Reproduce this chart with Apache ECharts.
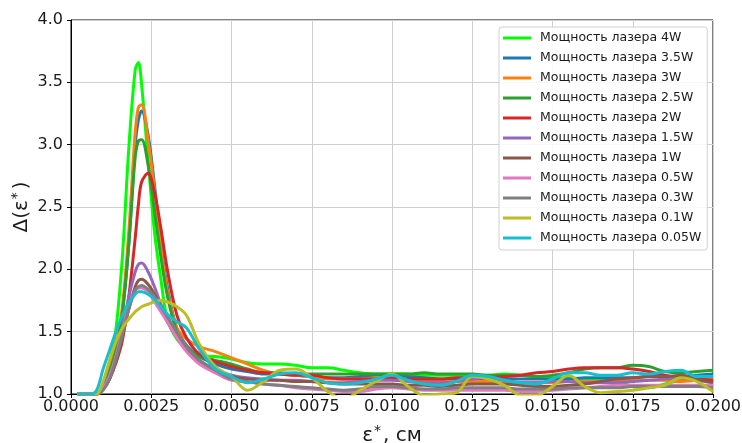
<!DOCTYPE html>
<html>
<head>
<meta charset="utf-8">
<script src="https://cdn.jsdelivr.net/npm/echarts@6/dist/echarts.min.js"></script>
<style>
  html, body { margin: 0; padding: 0; background: #fff; }
  #main { width: 742px; height: 443px; }
</style>
</head>
<body>
<div id="main"></div>
<script>
// x values (eps*, cm)
var xs = [0.0002, 0.0006, 0.0008, 0.0010, 0.0012, 0.0014, 0.0016, 0.0018, 0.0020, 0.0021,
  0.0022, 0.0024, 0.0026, 0.0028, 0.0030, 0.0033, 0.0036, 0.0040, 0.0045,
  0.0050, 0.0055, 0.0060, 0.0065, 0.0070, 0.0075, 0.0080, 0.0085, 0.0090, 0.0095,
  0.0100, 0.0105, 0.0110, 0.0115, 0.0120, 0.0125, 0.0130, 0.0135, 0.0140, 0.0145,
  0.0150, 0.0155, 0.0160, 0.0165, 0.0170, 0.0175, 0.0180, 0.0185, 0.0190, 0.0195, 0.0200];

var p4w = [1, 1, 1.0, 1.08, 1.25, 1.52, 2.1, 2.97, 3.6, 3.66, 3.48, 2.88, 2.3, 1.92, 1.6, 1.44, 1.37, 1.31, 1.3,
  1.28, 1.25, 1.24, 1.24, 1.23, 1.21, 1.21, 1.19, 1.17, 1.16, 1.16, 1.16, 1.15, 1.15, 1.15, 1.15, 1.15, 1.16, 1.15, 1.14,
  1.13, 1.13, 1.12, 1.11, 1.1, 1.06, 1.05, 1.08, 1.11, 1.12, 1.13];
var p35w = [1, 1, 1.0, 1.06, 1.18, 1.35, 1.65, 2.2, 3.0, 3.2, 3.27, 3.08, 2.68, 2.2, 1.86, 1.52, 1.39, 1.3, 1.24,
  1.2, 1.18, 1.16, 1.16, 1.15, 1.14, 1.13, 1.13, 1.14, 1.15, 1.15, 1.14, 1.13, 1.12, 1.12, 1.12, 1.12, 1.12, 1.12, 1.12,
  1.12, 1.12, 1.13, 1.13, 1.13, 1.13, 1.14, 1.14, 1.14, 1.15, 1.16];
var p3w = [1, 1, 1.0, 1.07, 1.2, 1.38, 1.7, 2.3, 3.1, 3.3, 3.32, 3.04, 2.64, 2.18, 1.83, 1.53, 1.44, 1.38, 1.34,
  1.29, 1.24, 1.19, 1.16, 1.15, 1.14, 1.12, 1.12, 1.12, 1.13, 1.12, 1.11, 1.11, 1.1, 1.1, 1.1, 1.1, 1.09, 1.09, 1.09,
  1.09, 1.1, 1.1, 1.1, 1.1, 1.11, 1.11, 1.11, 1.1, 1.11, 1.12];
var p25w = [1, 1, 1.0, 1.06, 1.18, 1.35, 1.65, 2.2, 2.9, 3.03, 3.04, 2.84, 2.47, 2.1, 1.79, 1.5, 1.38, 1.3, 1.27,
  1.24, 1.2, 1.17, 1.17, 1.16, 1.16, 1.16, 1.16, 1.16, 1.16, 1.16, 1.16, 1.17, 1.16, 1.16, 1.16, 1.15, 1.15, 1.15, 1.14,
  1.15, 1.17, 1.2, 1.21, 1.21, 1.23, 1.22, 1.18, 1.17, 1.18, 1.19];
var p2w = [1, 1, 1.0, 1.04, 1.12, 1.25, 1.43, 1.78, 2.25, 2.52, 2.7, 2.77, 2.62, 2.33, 2.0, 1.63, 1.45, 1.32, 1.26,
  1.22, 1.19, 1.17, 1.16, 1.15, 1.15, 1.13, 1.12, 1.12, 1.12, 1.13, 1.12, 1.12, 1.12, 1.13, 1.13, 1.13, 1.14, 1.15, 1.17,
  1.18, 1.2, 1.21, 1.21, 1.21, 1.2, 1.18, 1.15, 1.13, 1.12, 1.11];
var p15w = [1, 1, 1.0, 1.05, 1.15, 1.3, 1.52, 1.78, 1.98, 2.04, 2.05, 1.98, 1.86, 1.72, 1.62, 1.48, 1.38, 1.27, 1.2,
  1.15, 1.13, 1.12, 1.11, 1.11, 1.1, 1.09, 1.09, 1.1, 1.11, 1.11, 1.1, 1.09, 1.09, 1.1, 1.12, 1.13, 1.11, 1.09, 1.09,
  1.1, 1.1, 1.09, 1.09, 1.09, 1.1, 1.11, 1.12, 1.13, 1.11, 1.09];
var p1w = [1, 1, 1.0, 1.04, 1.12, 1.26, 1.46, 1.68, 1.86, 1.91, 1.92, 1.88, 1.8, 1.69, 1.58, 1.46, 1.37, 1.27, 1.19,
  1.14, 1.12, 1.11, 1.11, 1.1, 1.1, 1.09, 1.08, 1.08, 1.08, 1.08, 1.07, 1.07, 1.06, 1.07, 1.08, 1.08, 1.08, 1.07, 1.06,
  1.06, 1.07, 1.08, 1.1, 1.12, 1.13, 1.14, 1.14, 1.15, 1.12, 1.09];
var p05w = [1, 1, 1.0, 1.04, 1.14, 1.3, 1.5, 1.7, 1.83, 1.85, 1.85, 1.82, 1.74, 1.66, 1.58, 1.45, 1.34, 1.24, 1.17,
  1.11, 1.1, 1.08, 1.07, 1.05, 1.04, 1.03, 1.02, 1.02, 1.04, 1.05, 1.04, 1.03, 1.03, 1.03, 1.03, 1.03, 1.03, 1.02, 1.02,
  1.03, 1.04, 1.05, 1.06, 1.07, 1.07, 1.07, 1.07, 1.07, 1.07, 1.07];
var p03w = [1, 1, 1.0, 1.03, 1.12, 1.28, 1.48, 1.68, 1.83, 1.86, 1.87, 1.84, 1.78, 1.7, 1.62, 1.5, 1.38, 1.27, 1.19,
  1.12, 1.1, 1.08, 1.07, 1.06, 1.05, 1.04, 1.03, 1.04, 1.06, 1.06, 1.05, 1.04, 1.04, 1.05, 1.05, 1.05, 1.05, 1.04, 1.04,
  1.04, 1.05, 1.05, 1.05, 1.05, 1.06, 1.06, 1.06, 1.06, 1.06, 1.05];
var p01w = [1, 1, 1.0, 1.1, 1.27, 1.42, 1.53, 1.6, 1.66, 1.68, 1.7, 1.72, 1.74, 1.75, 1.74, 1.7, 1.63, 1.4, 1.22,
  1.14, 1.03, 1.1, 1.19, 1.2, 1.13, 1.02, 0.96, 1.03, 1.1, 1.16, 1.06, 0.99, 1.0, 1.01, 1.14, 1.12, 1.07, 0.99, 0.99,
  1.06, 1.15, 1.06, 1.01, 1.02, 1.03, 1.05, 1.07, 1.13, 1.1, 1.02];
var p005w = [1, 1, 1.03, 1.2, 1.35, 1.5, 1.63, 1.73, 1.8, 1.82, 1.82, 1.8, 1.76, 1.7, 1.64, 1.58, 1.53, 1.36, 1.2,
  1.14, 1.09, 1.12, 1.16, 1.17, 1.13, 1.09, 1.08, 1.09, 1.12, 1.15, 1.11, 1.08, 1.07, 1.1, 1.15, 1.14, 1.11, 1.09, 1.08,
  1.12, 1.17, 1.17, 1.15, 1.15, 1.17, 1.16, 1.18, 1.19, 1.14, 1.14];

var names = ['Мощность лазера 4W', 'Мощность лазера 3.5W', 'Мощность лазера 3W', 'Мощность лазера 2.5W',
  'Мощность лазера 2W', 'Мощность лазера 1.5W', 'Мощность лазера 1W', 'Мощность лазера 0.5W',
  'Мощность лазера 0.3W', 'Мощность лазера 0.1W', 'Мощность лазера 0.05W'];
var colors = ['#00ff00', '#1f77b4', '#ff7f0e', '#2ca02c', '#d62728', '#9467bd', '#8c564b',
  '#e377c2', '#7f7f7f', '#bcbd22', '#17becf'];
var allY = [p4w, p35w, p3w, p25w, p2w, p15w, p1w, p05w, p03w, p01w, p005w];

var FONT = 'DejaVu Sans';

var series = allY.map(function (ys, k) {
  return {
    name: names[k],
    type: 'line',
    smooth: 0.35,
    showSymbol: false,
    clip: true,
    color: colors[k],
    lineStyle: { width: 3 },
    data: xs.map(function (x, i) { return [x, ys[i]]; })
  };
});

var myChart = echarts.init(document.getElementById('main'));
myChart.setOption({
  backgroundColor: '#fff',
  animation: false,
  textStyle: { fontFamily: FONT },
  grid: {
    left: 71, right: 29, top: 20, bottom: 49,
    outerBoundsMode: 'none', containLabel: false,
    show: true, borderColor: '#000', borderWidth: 1
  },
  legend: {
    orient: 'vertical',
    left: 499,
    top: 27,
    padding: [4, 6, 5, 4],
    itemGap: 6,
    itemWidth: 28,
    itemHeight: 3,
    icon: 'rect',
    backgroundColor: 'rgba(255,255,255,0.85)',
    borderColor: '#d0d0d0',
    borderWidth: 1,
    borderRadius: 3,
    textStyle: { fontFamily: FONT, fontSize: 12.5, color: '#1a1a1a', lineHeight: 14, padding: [0, 0, 0, 4] },
    data: names
  },
  xAxis: {
    type: 'value',
    min: 0,
    max: 0.02,
    interval: 0.0025,
    name: '{a|ε}{s|*}{a|, см}',
    nameLocation: 'middle',
    nameGap: 30,
    nameTextStyle: {
      rich: {
        a: { fontFamily: FONT, fontSize: 20, color: '#1a1a1a' },
        s: { fontFamily: FONT, fontSize: 14, color: '#1a1a1a', verticalAlign: 'top', padding: [0, 2, 9, 1] }
      }
    },
    axisLine: { show: true, lineStyle: { color: '#000', width: 1 } },
    axisTick: { show: true, inside: false, length: 4, lineStyle: { color: '#000' } },
    axisLabel: {
      fontFamily: FONT, fontSize: 16, color: '#1a1a1a', margin: 5,
      formatter: function (v) { return v.toFixed(4); }
    },
    splitLine: { show: true, lineStyle: { color: '#cfcfcf', width: 1 } }
  },
  yAxis: {
    type: 'value',
    min: 1,
    max: 4,
    interval: 0.5,
    name: '{a|Δ(ε}{s|*}{a|)}',
    nameLocation: 'middle',
    nameGap: 38,
    nameMoveOverlap: false,
    nameRotate: 90,
    nameTextStyle: {
      rich: {
        a: { fontFamily: FONT, fontSize: 20, color: '#1a1a1a' },
        s: { fontFamily: FONT, fontSize: 14, color: '#1a1a1a', verticalAlign: 'top', padding: [0, 3, 9, 1] }
      }
    },
    axisLine: { show: true, lineStyle: { color: '#000', width: 1 } },
    axisTick: { show: true, inside: false, length: 4, lineStyle: { color: '#000' } },
    axisLabel: {
      fontFamily: FONT, fontSize: 16, color: '#1a1a1a', margin: 8,
      formatter: function (v) { return v.toFixed(1); }
    },
    splitLine: { show: true, lineStyle: { color: '#cfcfcf', width: 1 } }
  },
  series: series
});
</script>
</body>
</html>
